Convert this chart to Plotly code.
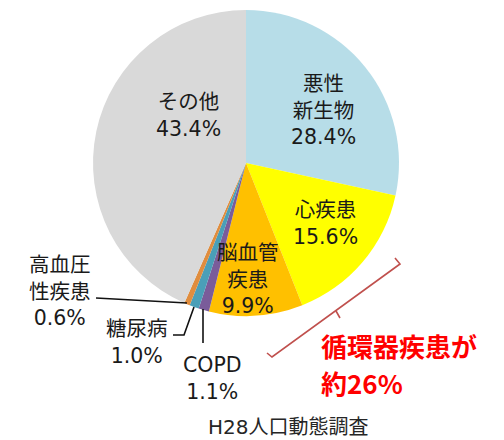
import plotly.graph_objects as go

labels = ["悪性<br>新生物", "心疾患", "脳血管<br>疾患", "COPD", "糖尿病", "高血圧<br>性疾患", "その他"]
values = [28.4, 15.6, 9.9, 1.1, 1.0, 0.6, 43.4]
colors = ["#B7DDE8", "#FFFF00", "#FFC000", "#7A5C9A", "#4A9FB8", "#E08D3E", "#D9D9D9"]
callout_lines = ["循環器疾患が", "約26%"]
source_text = "H28人口動態調査"

W, H = 504, 440
FONT = "DejaVu Sans, Noto Sans CJK JP, sans-serif"

def px(x):
    return x / W

def py(y):
    return 1 - y / H

cx, cy, r = 246, 163, 153

fig = go.Figure(go.Pie(
    labels=labels, values=values, sort=False, direction="clockwise", rotation=0,
    marker=dict(colors=colors, line=dict(color="white", width=0)),
    textinfo="none", hoverinfo="label+percent", showlegend=False,
    domain=dict(x=[px(cx - r), px(cx + r)], y=[py(cy + r), py(cy - r)]),
))

# label placement (x center, y center in px)
label_pos = [(323, 110), (325, 223), (248, 279), (212, 378), (137, 342), (60, 291), (188, 115)]
annotations = []
for lab, val, (x, y) in zip(labels, values, label_pos):
    annotations.append(dict(
        x=px(x), y=py(y), xref="paper", yref="paper", xanchor="center", yanchor="middle",
        text=f"{lab}<br>{val:.1f}%", showarrow=False, align="center",
        font=dict(family=FONT, size=20.5, color="#1a1a1a"),
    ))

for line, y in zip(callout_lines, [345, 382]):
    annotations.append(dict(
        x=px(320), y=py(y), xref="paper", yref="paper", xanchor="left", yanchor="middle",
        text=f"<b>{line}</b>", showarrow=False, align="left", borderpad=0,
        font=dict(family="Noto Sans CJK JP, sans-serif", size=26, color="#FF0000"),
    ))
annotations.append(dict(
    x=px(288), y=py(427), xref="paper", yref="paper", xanchor="center", yanchor="middle",
    text=source_text, showarrow=False,
    font=dict(family=FONT, size=20, color="#262626"),
))

def seg(pts, color="#111111", width=1.6):
    path = "M " + " L ".join(f"{px(a)},{py(b)}" for a, b in pts)
    return dict(type="path", path=path, xref="paper", yref="paper",
                line=dict(color=color, width=width))

shapes = [
    seg([(96, 298), (187, 303)]),
    seg([(194, 307), (184, 335), (173, 335)]),
    seg([(203, 309), (203, 343)]),
    seg([(395, 258), (400, 264), (272, 357), (267, 353)], color="#C0504D", width=1.6),
    seg([(336, 311), (340, 318)], color="#C0504D", width=1.6),
]

fig.update_layout(
    width=W, height=H, margin=dict(l=0, r=0, t=0, b=0),
    paper_bgcolor="white", plot_bgcolor="white",
    annotations=annotations, shapes=shapes,
    font=dict(family=FONT),
)
fig.write_html("out.html", config={"displayModeBar": False},
               post_script="document.body.style.margin='0';document.body.style.overflow='hidden';")
